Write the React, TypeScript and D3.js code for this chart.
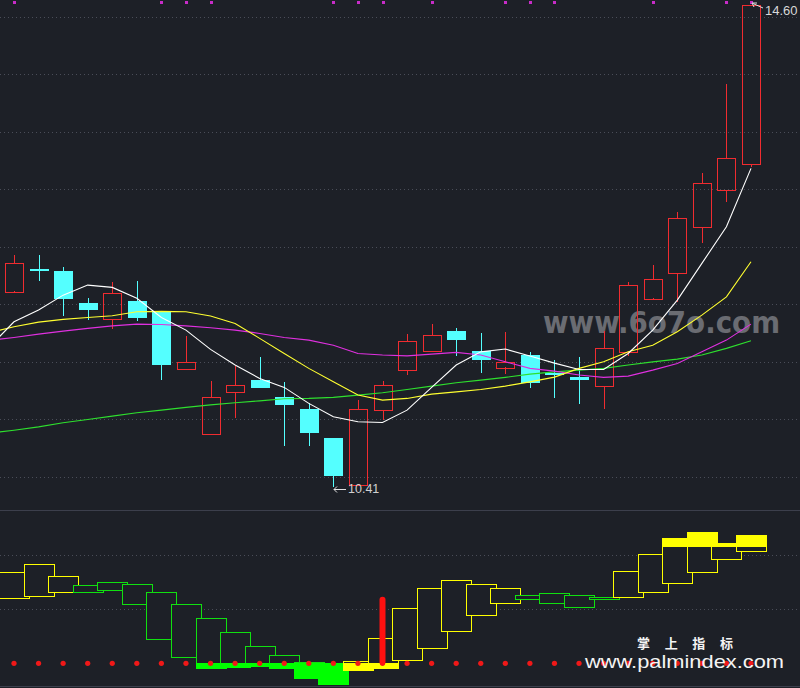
import React, { useEffect } from 'react';
import * as d3 from 'd3';

const W = 800;
const H = 688;
const BG = '#1d2027';

// ---- Candles (31 trading days) ----
const opens = [12.11, 12.305, 12.29, 12.01, 11.87, 12.03, 11.94, 11.44, 10.87, 11.24, 11.34, 11.19, 11.09, 10.84, 10.43, 11.08, 11.43, 11.59, 11.77, 11.59, 11.45, 11.56, 11.40, 11.37, 11.29, 11.59, 12.05, 12.27, 12.67, 12.99, 13.22];
const closes = [12.36, 12.30, 12.05, 11.95, 12.10, 11.88, 11.47, 11.50, 11.19, 11.30, 11.27, 11.12, 10.88, 10.51, 11.09, 11.30, 11.68, 11.73, 11.69, 11.51, 11.50, 11.32, 11.38, 11.34, 11.62, 12.17, 12.22, 12.75, 13.05, 13.27, 14.60];
const highs = [12.43, 12.43, 12.32, 12.05, 12.19, 12.20, 11.94, 11.72, 11.33, 11.46, 11.54, 11.32, 11.14, 10.84, 11.17, 11.33, 11.74, 11.83, 11.79, 11.75, 11.76, 11.58, 11.51, 11.54, 11.77, 12.19, 12.34, 12.80, 13.14, 13.91, 14.60];
const lows = [12.10, 12.20, 11.90, 11.86, 11.78, 11.85, 11.34, 11.44, 10.87, 11.01, 11.27, 10.77, 10.77, 10.41, 10.42, 10.99, 11.38, 11.585, 11.55, 11.40, 11.39, 11.27, 11.18, 11.13, 11.09, 11.55, 12.04, 12.02, 12.53, 12.89, 13.19];

// ---- Moving averages (first value = day before the first candle) ----
const ma5 = [11.628, 11.846, 11.948, 12.078, 12.165, 12.145, 12.05, 11.884, 11.774, 11.606, 11.47, 11.354, 11.276, 11.137, 11.02, 10.977, 10.971, 11.078, 11.276, 11.47, 11.585, 11.609, 11.548, 11.487, 11.432, 11.432, 11.571, 11.774, 12.035, 12.354, 12.672, 13.18];
const ma10 = [11.752, 11.803, 11.843, 11.867, 11.884, 11.898, 11.933, 11.937, 11.933, 11.896, 11.832, 11.702, 11.571, 11.441, 11.324, 11.209, 11.165, 11.18, 11.217, 11.237, 11.258, 11.287, 11.324, 11.365, 11.441, 11.498, 11.585, 11.643, 11.759, 11.904, 12.063, 12.368];
const ma20 = [11.684, 11.71, 11.739, 11.765, 11.789, 11.811, 11.826, 11.823, 11.811, 11.794, 11.774, 11.745, 11.71, 11.687, 11.643, 11.571, 11.557, 11.55, 11.565, 11.58, 11.557, 11.498, 11.441, 11.417, 11.383, 11.363, 11.374, 11.426, 11.484, 11.585, 11.687, 11.826];
const ma60 = [10.878, 10.904, 10.933, 10.968, 10.997, 11.026, 11.055, 11.078, 11.102, 11.124, 11.142, 11.159, 11.177, 11.18, 11.189, 11.209, 11.229, 11.258, 11.287, 11.316, 11.339, 11.363, 11.391, 11.411, 11.426, 11.441, 11.47, 11.498, 11.522, 11.557, 11.615, 11.681];

const priceTicks = [10.5, 11, 11.5, 12, 12.5, 13, 13.5, 14, 14.5];
const topSignals = [0, 6, 7, 8, 13, 14, 15, 17, 20, 21, 22, 26, 29, 30];

// ---- Sub indicator ----
const subTop = [78.0, 84.9, 74.6, 66.9, 69.5, 67.8, 60.9, 50.6, 38.6, 26.6, 14.6, 7.1, 1.1, 0.5, 2.0, 21.4, 47.2, 64.3, 71.2, 67.8, 64.3, 58.3, 60.3, 58.3, 56.9, 79.2, 93.7, 107.2, 112.3, 103.4, 110.0];
const subBottom = [55.7, 57.5, 61.4, 60.9, 62.6, 50.6, 20.8, 5.1, -4.3, -2.9, -2.1, -3.8, -12.3, -17.8, -5.7, -3.8, 2.8, 12.9, 27.4, 41.2, 51.5, 54.9, 51.5, 48.0, 54.9, 57.1, 60.9, 68.6, 78.6, 89.2, 96.6];
const subRising = [1, 1, 1, 0, 0, 0, 0, 0, 0, 0, 0, 0, 0, 0, 1, 1, 1, 1, 1, 1, 1, 0, 0, 0, 0, 1, 1, 1, 1, 1, 1];
const subTicks = [46.3, 92.9];
const buySignalIdx = [15];
const buySignalTop = [57.1];
const buySignalBottom = [-1.5];

const UP = '#f02c30';
const DOWN = '#54ffff';
const GRID = '#4a4d58';

export default function App() {
  useEffect(() => {
    document.body.style.margin = '0';
    document.body.style.background = BG;
  }, []);

  const n = opens.length;
  const x = d3.scaleLinear().domain([0, n - 1]).range([14, 751]);
  const y = d3.scaleLinear().domain([10.41, 14.6]).range([487, 5]);
  const ys = d3.scaleLinear().domain([0, 100]).range([663.3, 546.7]);

  const maLine = (arr: number[]) =>
    d3.line<number>().x((_, i) => x(i - 1)).y((d) => y(d))(arr) || '';

  const bodyHalf = 9;
  const boxHalf = 15;

  return (
    <svg width={W} height={H} style={{ position: 'absolute', left: 0, top: 0, display: 'block' }}
      fontFamily="'Liberation Sans', Arial, sans-serif">
      <rect x={0} y={0} width={W} height={H} fill={BG} />

      {/* main grid */}
      {priceTicks.map((t) => (
        <line key={'g' + t} x1={0} x2={W} y1={Math.round(y(t)) + 0.5} y2={Math.round(y(t)) + 0.5}
          stroke={GRID} strokeDasharray="1 3" />
      ))}

      {/* watermark */}
      <text x={543} y={333} fontSize={30} fontWeight="bold" fill="#6a6c72" textLength={237}
        lengthAdjust="spacingAndGlyphs" fontFamily="'DejaVu Sans', 'Liberation Sans', sans-serif">www.6o7o.com</text>

      {/* candles */}
      {opens.map((o, i) => {
        const c = closes[i];
        const cx = Math.round(x(i));
        const up = c >= o;
        const top = y(Math.max(o, c));
        const bot = y(Math.min(o, c));
        const col = up ? UP : DOWN;
        const bh = Math.max(1, bot - top);
        return (
          <g key={'c' + i} shapeRendering="crispEdges">
            <line x1={cx + 0.5} x2={cx + 0.5} y1={y(highs[i])} y2={top} stroke={col} />
            <line x1={cx + 0.5} x2={cx + 0.5} y1={bot} y2={y(lows[i])} stroke={col} />
            {up ? (
              <rect x={cx - bodyHalf + 0.5} y={Math.round(top) + 0.5} width={bodyHalf * 2}
                height={Math.max(1, Math.round(bh))} fill="none" stroke={col} />
            ) : (
              <rect x={cx - bodyHalf} y={Math.round(top)} width={bodyHalf * 2 + 1}
                height={Math.max(2, Math.round(bh))} fill={col} />
            )}
          </g>
        );
      })}

      {/* moving averages */}
      <path d={maLine(ma60)} fill="none" stroke="#2ee02e" strokeWidth={1.1} />
      <path d={maLine(ma20)} fill="none" stroke="#e030e0" strokeWidth={1.1} />
      <path d={maLine(ma10)} fill="none" stroke="#ffff30" strokeWidth={1.1} />
      <path d={maLine(ma5)} fill="none" stroke="#ffffff" strokeWidth={1.1} />

      {/* top signal markers */}
      {topSignals.map((i) => (
        <rect key={'s' + i} x={Math.round(x(i)) - 1} y={1} width={3} height={3} fill="#c82cc8" />
      ))}

      {/* high / low labels */}
      <line x1={763} y1={8} x2={753} y2={3.5} stroke="#e0e0e0" strokeWidth={1} />
      <path d="M752,3 L757,3 M752,3 L754,7" stroke="#e0e0e0" strokeWidth={1} fill="none" />
      <text x={765} y={15} fontSize={13} fill="#d8d8d8">14.60</text>
      <line x1={334} y1={489.5} x2={346} y2={489.5} stroke="#e0e0e0" strokeWidth={1} />
      <path d="M337,486.5 L334,489.5 L337,492.5" stroke="#e0e0e0" strokeWidth={1} fill="none" />
      <text x={348} y={493} fontSize={12.5} fill="#d0d0d0">10.41</text>

      {/* panel separators */}
      <line x1={0} x2={W} y1={510.5} y2={510.5} stroke="#3c3f4c" />
      <line x1={0} x2={W} y1={686.5} y2={686.5} stroke="#3c3f4c" />

      {/* sub grid */}
      {subTicks.map((t) => (
        <line key={'sg' + t} x1={0} x2={W} y1={Math.round(ys(t)) + 0.5} y2={Math.round(ys(t)) + 0.5}
          stroke={GRID} strokeDasharray="1 3" />
      ))}

      {/* sub indicator boxes */}
      {subTop.map((t, i) => {
        const b = subBottom[i];
        const rising = subRising[i] === 1;
        const stroke = rising ? '#ffff00' : '#10e010';
        const fill = rising ? '#ffff00' : '#00ff00';
        const cx = Math.round(x(i));
        const x0 = cx - boxHalf;
        const yt = Math.round(ys(t));
        const yb = Math.round(ys(b));
        const z = ys(0);
        const hi = ys(100);
        return (
          <g key={'b' + i} shapeRendering="crispEdges">
            <rect x={x0 + 0.5} y={yt + 0.5} width={boxHalf * 2} height={Math.max(1, yb - yt)}
              fill={BG} stroke={stroke} strokeWidth={1} />
            {b < 0 && (
              <rect x={x0} y={Math.round(Math.max(z, ys(t)))} width={boxHalf * 2 + 1}
                height={yb - Math.round(Math.max(z, ys(t))) + 1} fill={fill} />
            )}
            {t > 100 && (
              <rect x={x0} y={yt} width={boxHalf * 2 + 1}
                height={Math.round(Math.min(hi, ys(b))) - yt} fill={fill} />
            )}
          </g>
        );
      })}

      {/* zero-line dots */}
      {opens.map((_, i) => (
        <circle key={'d' + i} cx={x(i)} cy={ys(0)} r={2.6} fill="#f01818" />
      ))}

      {/* buy signal bar */}
      {buySignalIdx.map((idx, k) => (
        <rect key={'bs' + idx} x={x(idx) - 3} y={ys(buySignalTop[k])} width={6}
          height={ys(buySignalBottom[k]) - ys(buySignalTop[k])} rx={3} fill="#ff1010" />
      ))}

      {/* bottom watermark */}
      <text x={637} y={648} fontSize={13} fontWeight="bold" fill="#f4f4f4" textLength={96}
        lengthAdjust="spacing" fontFamily="'Noto Sans CJK SC', sans-serif">掌 上 指 标</text>
      <text x={585} y={668} fontSize={19} fill="#f4f4f4" textLength={199}
        lengthAdjust="spacingAndGlyphs">www.palmindex.com</text>
    </svg>
  );
}
